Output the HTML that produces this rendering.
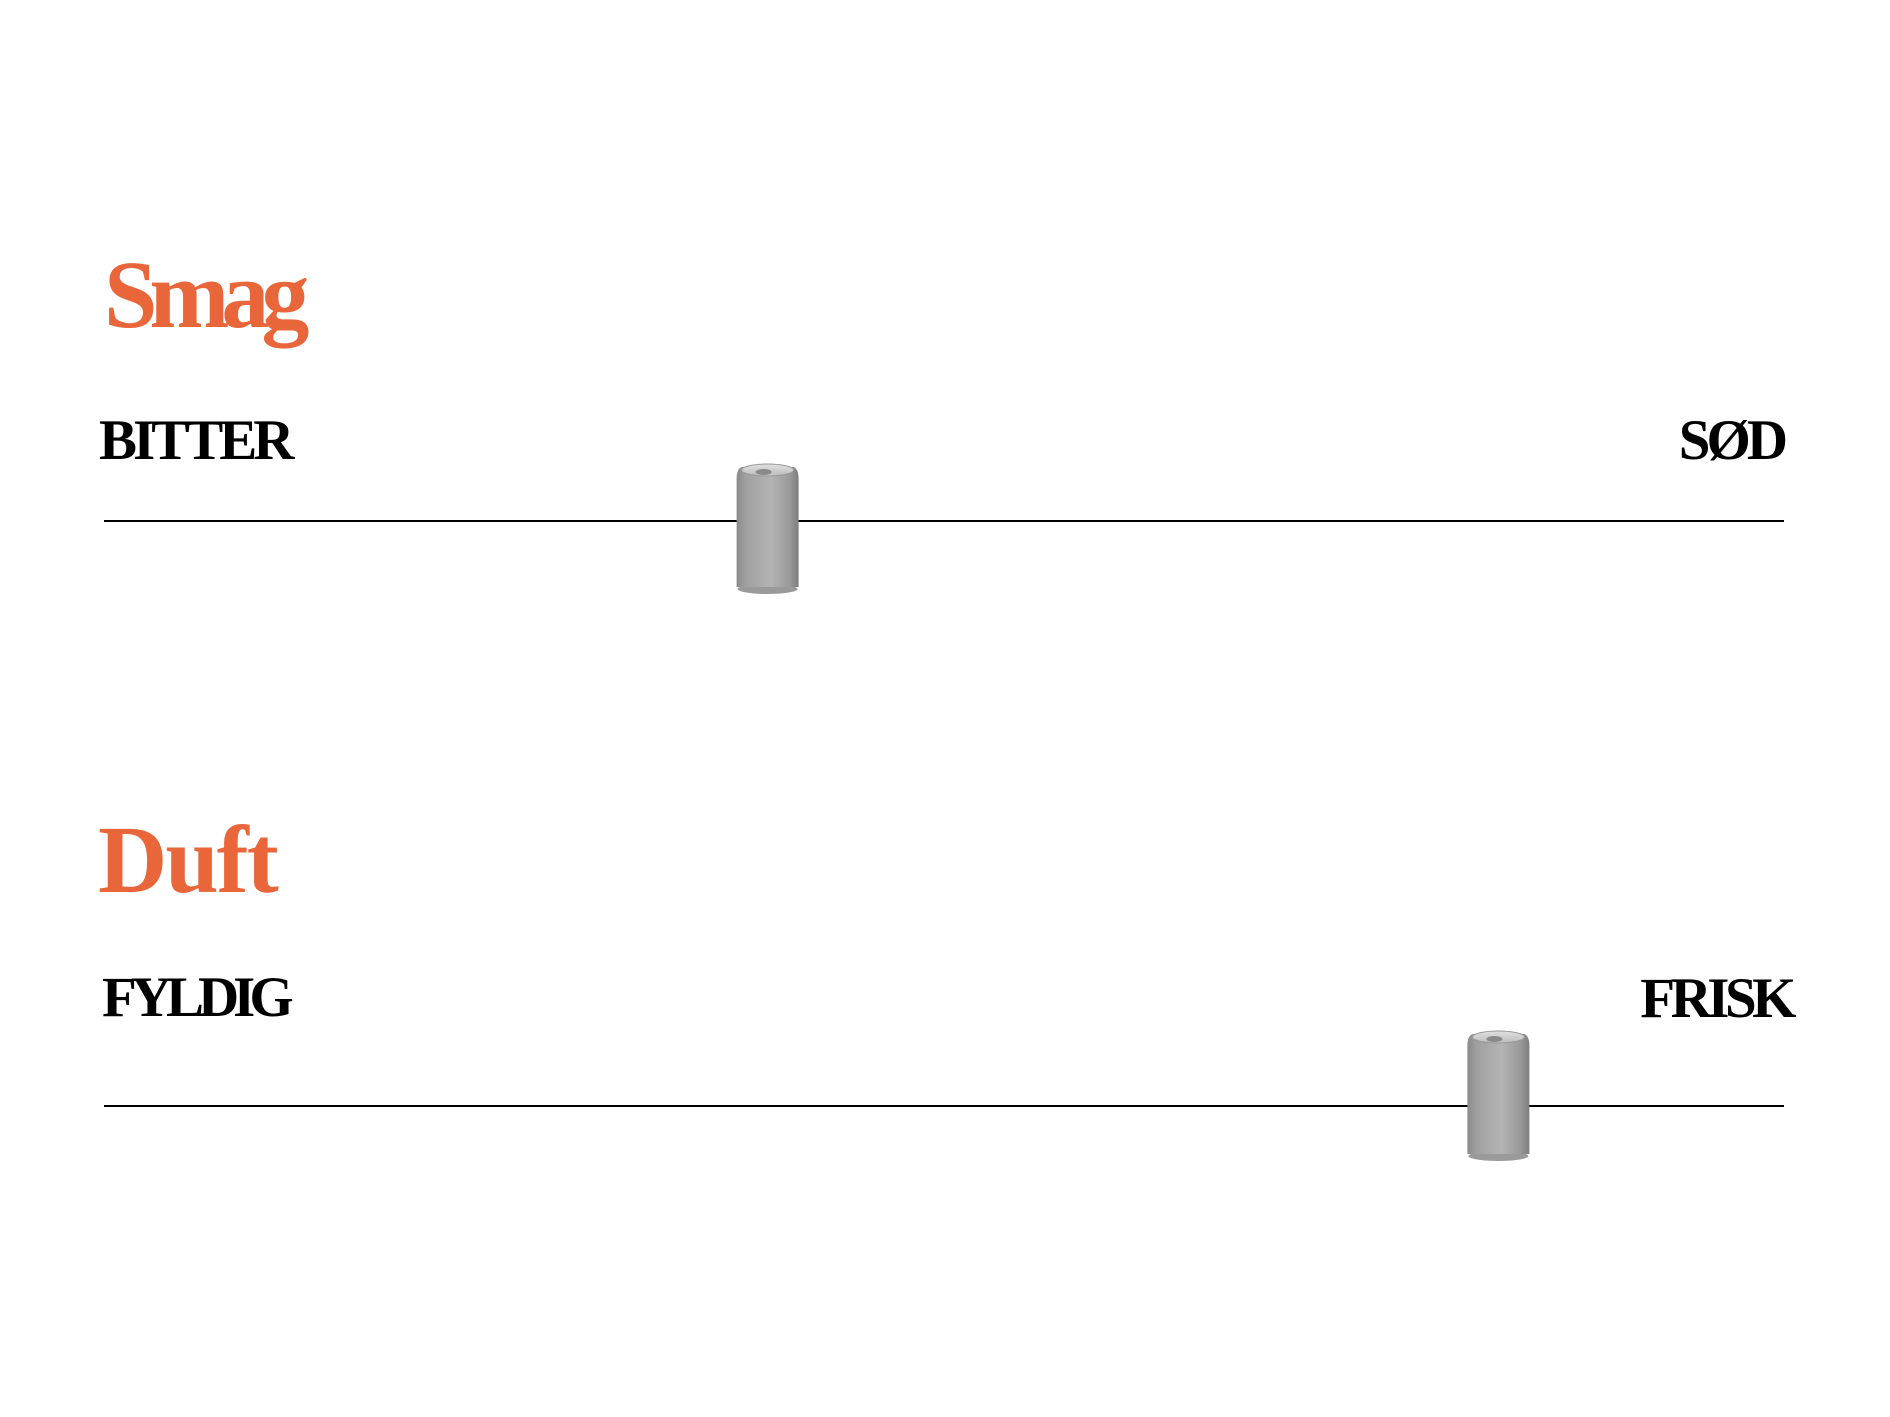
<!DOCTYPE html>
<html><head><meta charset="utf-8"><style>
html,body{margin:0;padding:0;background:#fff;}
body{width:1890px;height:1417px;position:relative;overflow:hidden;font-family:"Liberation Serif",serif;}
.t{position:absolute;font-weight:bold;white-space:nowrap;line-height:1;}
.h{color:#e8663a;font-size:96px;letter-spacing:-5px;}
.l{color:#000;font-size:57px;letter-spacing:-4px;}
</style></head><body>
<div class="t h" style="left:104px;top:247px;letter-spacing:-8px;">Smag</div>
<div class="t l" style="left:99px;top:412px;">BITTER</div>
<div class="t l" style="right:106px;top:412px;">SØD</div>
<div class="t h" style="left:98px;top:812px;font-size:96px;letter-spacing:-2px;">Duft</div>
<div class="t l" style="left:102px;top:969px;letter-spacing:-6px;">FYLDIG</div>
<div class="t l" style="right:98px;top:970px;letter-spacing:-4.5px;">FRISK</div>
<svg id="chart" width="1890" height="1417" style="position:absolute;left:0;top:0">
<defs>
<linearGradient id="body" x1="0" x2="1" y1="0" y2="0">
<stop offset="0" stop-color="#8a8a8a"/><stop offset="0.15" stop-color="#a0a0a0"/><stop offset="0.55" stop-color="#b4b4b4"/><stop offset="0.85" stop-color="#9a9a9a"/><stop offset="1" stop-color="#7e7e7e"/>
</linearGradient>
<linearGradient id="top" x1="0" x2="0" y1="0" y2="1"><stop offset="0" stop-color="#e0e0e0"/><stop offset="1" stop-color="#bcbcbc"/></linearGradient>
</defs>
</svg>
<script>
const categories = ["Smag", "Duft"];
const values = [3.95, 8.3];
const domainMax = 10;
const svg = document.getElementById('chart');
const NS = 'http://www.w3.org/2000/svg';
const x0 = 104, x1 = 1784;
const lineY = [521, 1106];
const canRise = [56, 74];
function xScale(v){ return x0 + (x1 - x0) * v / domainMax; }
categories.forEach((c, i) => {
  const y = lineY[i];
  const ln = document.createElementNS(NS, 'line');
  ln.setAttribute('x1', x0); ln.setAttribute('x2', x1);
  ln.setAttribute('y1', y); ln.setAttribute('y2', y);
  ln.setAttribute('stroke', '#000'); ln.setAttribute('stroke-width', '2');
  
  
  svg.appendChild(ln);
  const cx = xScale(values[i]);
  const g = document.createElementNS(NS, 'g');
  
  
  const w = 62, top = y - canRise[i], bot = top + 128;
  g.innerHTML =
    '<ellipse cx="'+cx+'" cy="'+(bot-4)+'" rx="'+(w/2-1)+'" ry="5" fill="#9a9a9a"/>' +
    '<path d="M'+(cx-w/2)+' '+(top+14)+' Q'+(cx-w/2)+' '+(top+4)+' '+(cx-w/2+5)+' '+(top+2)+' L'+(cx+w/2-5)+' '+(top+2)+' Q'+(cx+w/2)+' '+(top+4)+' '+(cx+w/2)+' '+(top+14)+' L'+(cx+w/2)+' '+(bot-6)+' L'+(cx-w/2)+' '+(bot-6)+' Z" fill="url(#body)"/>' +
    '<ellipse cx="'+cx+'" cy="'+(top+5)+'" rx="'+(w/2-5)+'" ry="6" fill="url(#top)" stroke="#999" stroke-width="1"/>' +
    '<ellipse cx="'+(cx-4)+'" cy="'+(top+7)+'" rx="8" ry="3" fill="#8a8a8a"/>';
  svg.appendChild(g);
});
</script>
</body></html>
